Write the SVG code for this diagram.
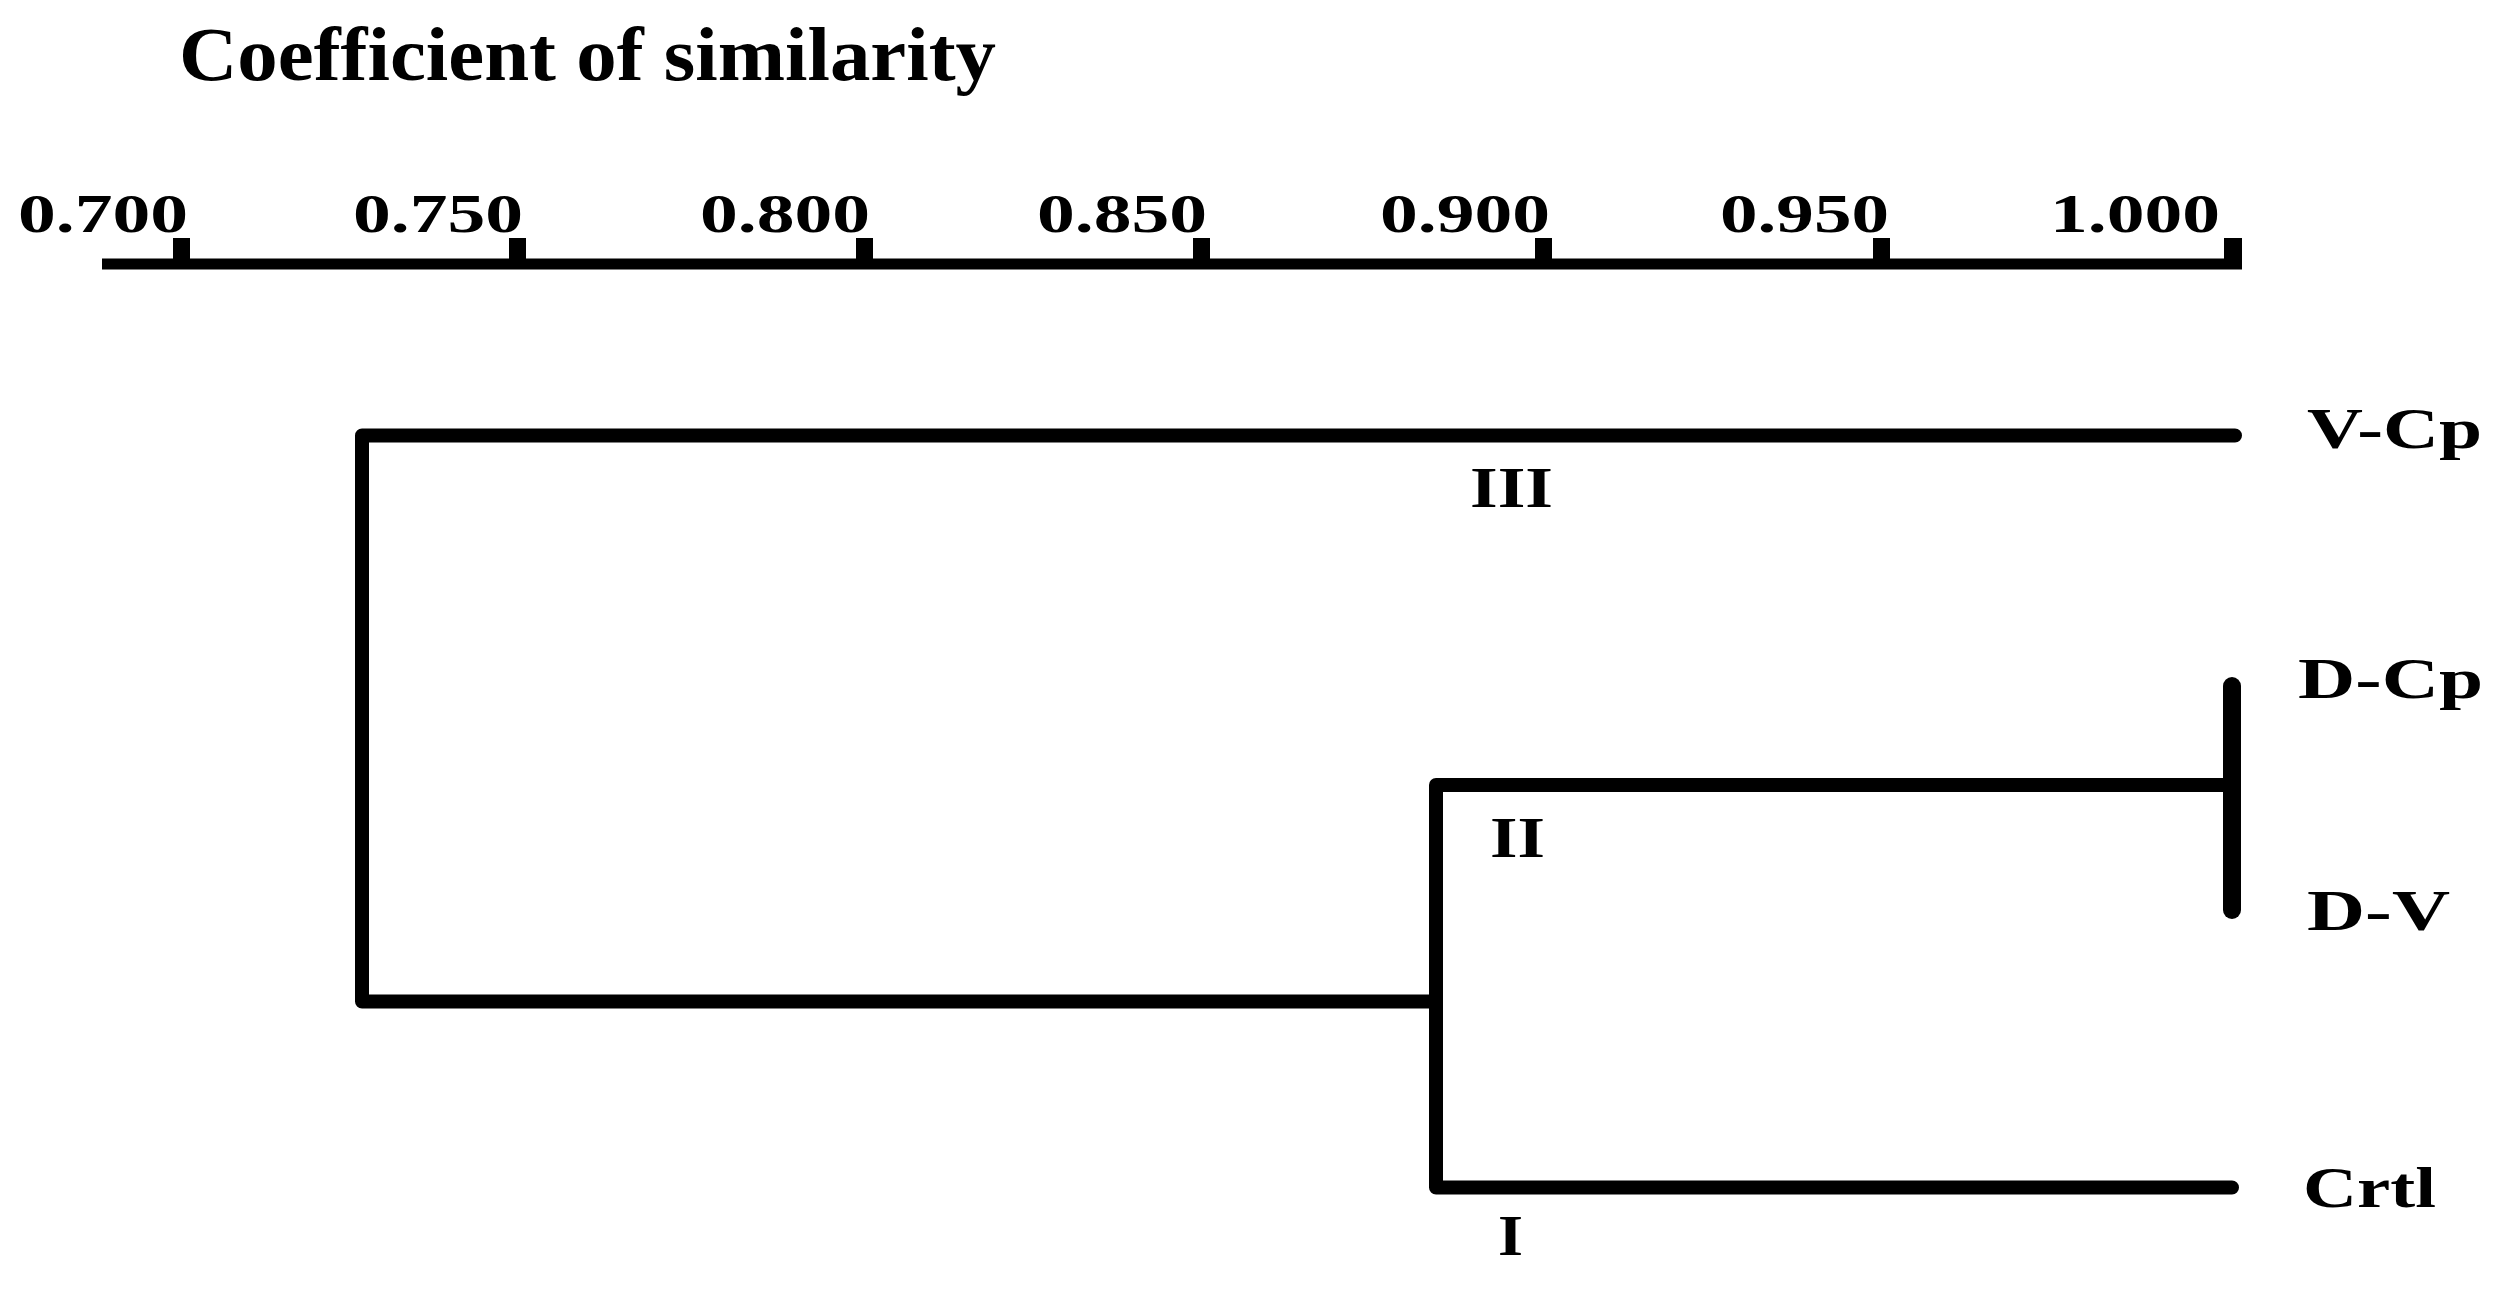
<svg xmlns="http://www.w3.org/2000/svg" width="2505" height="1289" viewBox="0 0 2505 1289">
<style>
.title{font-family:"Liberation Serif","Times New Roman",serif;font-weight:bold;font-size:76px;fill:#000}
.tick{font-family:"Liberation Serif","Times New Roman",serif;font-weight:bold;font-size:55px;fill:#000}
.leaf{font-family:"Liberation Serif","Times New Roman",serif;font-weight:bold;font-size:56px;fill:#000}
.roman{font-family:"Liberation Serif","Times New Roman",serif;font-weight:bold;font-size:58px;fill:#000}
.br{fill:none;stroke:#000;stroke-width:14;stroke-linecap:round;stroke-linejoin:round}
.axis{fill:none;stroke:#000;stroke-width:11}
</style>
<rect width="2505" height="1289" fill="#fff"/>
<text class="title" x="179" y="80" textLength="817" lengthAdjust="spacingAndGlyphs">Coefficient of similarity</text>
<g id="axis">
<line class="axis" x1="102" y1="264" x2="2242" y2="264"/>
<g fill="#000">
<rect x="173" y="238" width="17" height="30"/>
<rect x="509" y="238" width="17" height="30"/>
<rect x="856" y="238" width="17" height="30"/>
<rect x="1193" y="238" width="17" height="30"/>
<rect x="1535" y="238" width="17" height="30"/>
<rect x="1873" y="238" width="17" height="30"/>
<rect x="2224" y="238" width="18" height="30"/>
</g>
<text class="tick" x="18" y="232" textLength="170" lengthAdjust="spacingAndGlyphs">0.700</text>
<text class="tick" x="353" y="232" textLength="170" lengthAdjust="spacingAndGlyphs">0.750</text>
<text class="tick" x="700" y="232" textLength="170" lengthAdjust="spacingAndGlyphs">0.800</text>
<text class="tick" x="1037" y="232" textLength="170" lengthAdjust="spacingAndGlyphs">0.850</text>
<text class="tick" x="1380" y="232" textLength="170" lengthAdjust="spacingAndGlyphs">0.900</text>
<text class="tick" x="1720" y="232" textLength="169" lengthAdjust="spacingAndGlyphs">0.950</text>
<text class="tick" x="2050" y="232" textLength="170" lengthAdjust="spacingAndGlyphs">1.000</text>
</g>
<g id="connectors">
<path class="br" d="M2235 435.5 H362 V1001.5 H1436"/>
<path class="br" d="M2232 785 H1436 V1187.5 H2232"/>
<path class="br" d="M2232 686 V910" style="stroke-width:18"/>
</g>
<g id="node-VCp"><text class="leaf" x="2307" y="448" textLength="175" lengthAdjust="spacingAndGlyphs">V-Cp</text></g>
<g id="node-DCp"><text class="leaf" x="2298" y="698" textLength="185" lengthAdjust="spacingAndGlyphs">D-Cp</text></g>
<g id="node-DV"><text class="leaf" x="2307" y="930" textLength="143" lengthAdjust="spacingAndGlyphs">D-V</text></g>
<g id="node-Crtl"><text class="leaf" x="2303" y="1207" textLength="133" lengthAdjust="spacingAndGlyphs">Crtl</text></g>
<g id="cluster-III"><text class="roman" x="1470" y="507" textLength="83" lengthAdjust="spacingAndGlyphs">III</text></g>
<g id="cluster-II"><text class="roman" x="1490" y="857" textLength="55" lengthAdjust="spacingAndGlyphs">II</text></g>
<g id="cluster-I"><text class="roman" x="1498" y="1255" textLength="25" lengthAdjust="spacingAndGlyphs">I</text></g>
</svg>
